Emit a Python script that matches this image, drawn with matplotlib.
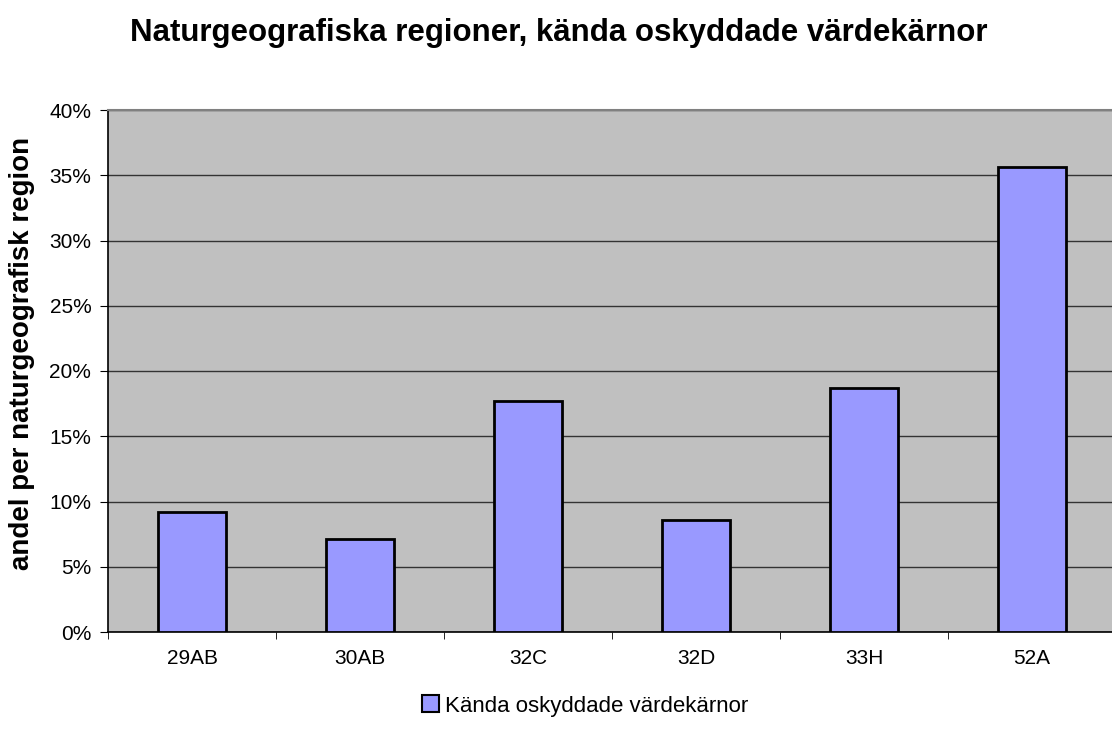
import matplotlib
matplotlib.use("Agg")
import matplotlib.pyplot as plt
from matplotlib.ticker import FuncFormatter, MultipleLocator
from matplotlib.patches import Patch

plt.rcParams['font.family'] = ['Liberation Sans', 'DejaVu Sans']

categories = ["29AB", "30AB", "32C", "32D", "33H", "52A"]
values = [9.2, 7.1, 17.7, 8.6, 18.7, 35.6]
series_name = "Kända oskyddade värdekärnor"
title = "Naturgeografiska regioner, kända oskyddade värdekärnor"
ylabel = "andel per naturgeografisk region"

W, H = 1112, 738
fig = plt.figure(figsize=(W/100, H/100), dpi=100)
left, right, top, bottom = 108, 1116, 110, 632
ax = fig.add_axes([left/W, 1-bottom/H, (right-left)/W, (bottom-top)/H])
ax.set_facecolor('#c0c0c0')

x = list(range(len(categories)))
ax.bar(x, values, width=0.4, color='#9999ff', edgecolor='black', linewidth=2, zorder=3)
ax.set_xlim(-0.5, len(categories)-0.5)
ax.set_ylim(0, 40)
ax.yaxis.set_major_locator(MultipleLocator(5))
ax.yaxis.set_major_formatter(FuncFormatter(lambda v, p: f"{v:.0f}%"))
ax.grid(axis='y', color='#333333', linewidth=1, zorder=1)
ax.set_axisbelow(True)

ax.set_xticks(x)
ax.set_xticklabels(categories, fontsize=15)
ax.tick_params(axis='x', length=0, pad=12)
ax.set_xticks([i + 0.5 for i in range(-1, len(categories))], minor=True)
ax.tick_params(axis='x', which='minor', length=5, color='black', direction='out')
ax.tick_params(axis='y', labelsize=15, length=6, color='black', direction='out', pad=6)

for s in ['left', 'bottom']:
    ax.spines[s].set_color('black')
    ax.spines[s].set_linewidth(1.2)
ax.spines['top'].set_color('#808080')
ax.spines['top'].set_linewidth(1.5)
ax.spines['right'].set_visible(False)

fig.text(22/W, 1-353/H, ylabel, rotation=90, ha='center', va='center', fontsize=20, fontweight='bold')

fig.text(559/W, 1-33/H, title, ha='center', va='center', fontsize=22.5, fontweight='bold')

fig.legend(handles=[Patch(facecolor='#9999ff', edgecolor='black', linewidth=1.5, label=series_name)],
           loc='center', bbox_to_anchor=(585/W, 1-706/H), frameon=False, fontsize=16,
           handlelength=0.8, handleheight=0.8, handletextpad=0.25, borderpad=0, borderaxespad=0)

fig.savefig("out.png", dpi=100)
